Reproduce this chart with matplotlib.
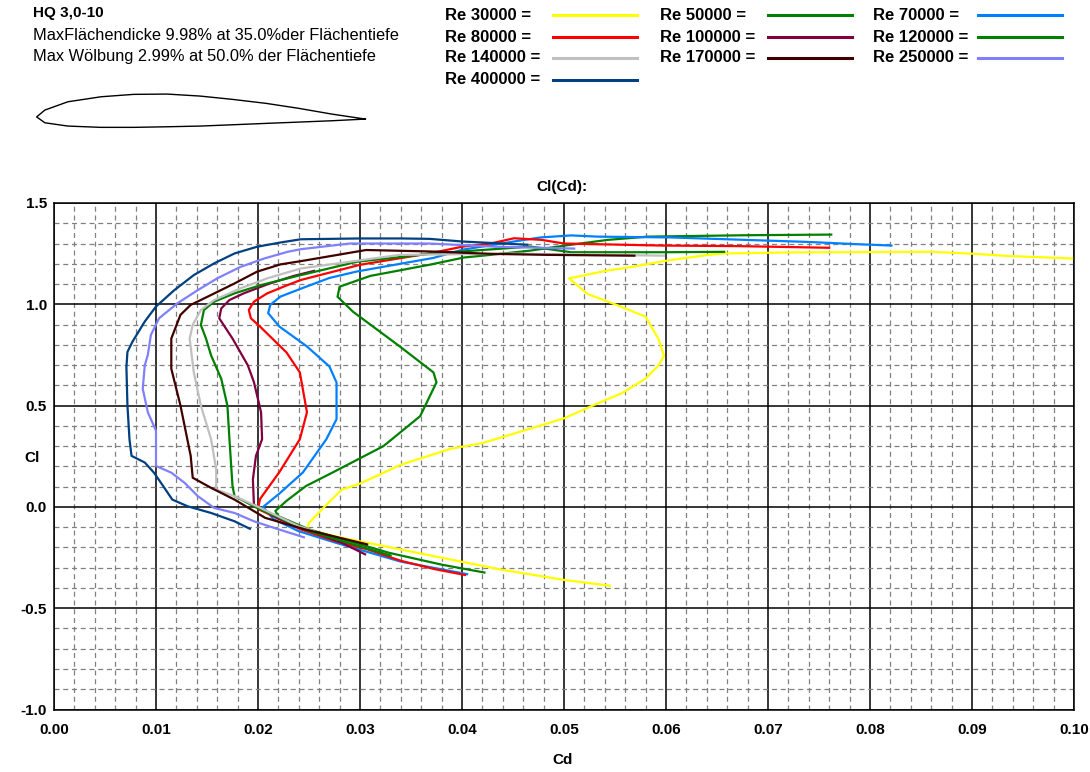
#!/usr/bin/env python3

import matplotlib
matplotlib.use("Agg")
import matplotlib.pyplot as plt
from matplotlib.lines import Line2D
from matplotlib.ticker import MultipleLocator, FormatStrFormatter


# polar data, each series ordered from lowest to highest Cl
re_labels = ["Re 30000 =", "Re 50000 =", "Re 70000 =",
             "Re 80000 =", "Re 100000 =", "Re 120000 =",
             "Re 140000 =", "Re 170000 =", "Re 250000 =",
             "Re 400000 ="]
re_colors = ["#ffff00", "#008000", "#0080ff",
             "#ff0000", "#800040", "#008000",
             "#c0c0c0", "#400000", "#8080ff",
             "#004080"]

cd_30k = [0.0545, 0.0501, 0.0440, 0.0379, 0.0320, 0.0280, 0.0248, 0.0250, 0.0265, 0.0282,
          0.0300, 0.0340, 0.0389, 0.0420, 0.0472, 0.0501, 0.0528, 0.0557, 0.0580, 0.0593,
          0.0598, 0.0593, 0.0580, 0.0550, 0.0523, 0.0505, 0.0542, 0.0567, 0.0600, 0.0640,
          0.0656, 0.0722, 0.0860, 0.0900, 0.0937, 0.1000, 0.1040]
cl_30k = [-0.389, -0.361, -0.311, -0.250, -0.190, -0.150, -0.111, -0.079, 0.000, 0.085,
          0.115, 0.208, 0.287, 0.315, 0.394, 0.439, 0.500, 0.562, 0.633, 0.700,
          0.746, 0.825, 0.939, 1.000, 1.051, 1.128, 1.166, 1.185, 1.215, 1.243,
          1.251, 1.256, 1.259, 1.250, 1.238, 1.226, 1.220]

cd_50k = [0.0422, 0.0380, 0.0328, 0.0250, 0.0220, 0.0217, 0.0228, 0.0247, 0.0274, 0.0323,
          0.0359, 0.0375, 0.0372, 0.0339, 0.0293, 0.0278, 0.0280, 0.0310, 0.0368, 0.0402,
          0.0428, 0.0467, 0.0501, 0.0543, 0.0582, 0.0680, 0.0762]
cl_50k = [-0.324, -0.285, -0.226, -0.111, -0.046, -0.020, 0.030, 0.103, 0.172, 0.300,
          0.448, 0.615, 0.664, 0.792, 0.964, 1.037, 1.087, 1.140, 1.195, 1.231,
          1.244, 1.265, 1.290, 1.318, 1.334, 1.341, 1.344]

cd_70k = [0.0405, 0.0340, 0.0275, 0.0240, 0.0215, 0.0205, 0.0221, 0.0244, 0.0267, 0.0277,
          0.0277, 0.0270, 0.0248, 0.0221, 0.0210, 0.0212, 0.0222, 0.0241, 0.0270, 0.0297,
          0.0372, 0.0401, 0.0451, 0.0477, 0.0507, 0.0533, 0.0605, 0.0738, 0.0786, 0.0821]
cl_70k = [-0.332, -0.270, -0.175, -0.120, -0.060, 0.000, 0.066, 0.170, 0.334, 0.433,
          0.614, 0.693, 0.792, 0.890, 0.956, 0.997, 1.038, 1.075, 1.130, 1.162,
          1.229, 1.270, 1.310, 1.330, 1.340, 1.334, 1.330, 1.308, 1.297, 1.290]

cd_80k = [0.0403, 0.0373, 0.0340, 0.0307, 0.0275, 0.0242, 0.0200, 0.0202, 0.0221, 0.0241,
          0.0248, 0.0241, 0.0228, 0.0202, 0.0193, 0.0191, 0.0196, 0.0209, 0.0229, 0.0242,
          0.0300, 0.0369, 0.0401, 0.0428, 0.0451, 0.0478, 0.0500, 0.0596, 0.0673, 0.0760]
cl_80k = [-0.336, -0.307, -0.266, -0.209, -0.168, -0.111, -0.010, 0.039, 0.172, 0.334,
          0.467, 0.664, 0.762, 0.890, 0.931, 0.972, 1.013, 1.054, 1.095, 1.120,
          1.195, 1.252, 1.285, 1.300, 1.326, 1.318, 1.300, 1.290, 1.287, 1.279]

cd_100k = [0.0305, 0.0282, 0.0243, 0.0219, 0.0196, 0.0195, 0.0198, 0.0204, 0.0203, 0.0196,
           0.0190, 0.0175, 0.0162, 0.0164, 0.0172, 0.0186, 0.0210, 0.0235, 0.0255]
cl_100k = [-0.234, -0.177, -0.103, -0.055, 0.011, 0.136, 0.252, 0.334, 0.467, 0.616,
           0.699, 0.831, 0.931, 0.980, 1.021, 1.054, 1.100, 1.140, 1.165]

cd_120k = [0.0330, 0.0290, 0.0250, 0.0199, 0.0177, 0.0175, 0.0172, 0.0170, 0.0164, 0.0154,
           0.0149, 0.0144, 0.0147, 0.0157, 0.0177, 0.0203, 0.0229, 0.0242, 0.0297, 0.0370,
           0.0467, 0.0507, 0.0599, 0.0657]
cl_120k = [-0.240, -0.180, -0.120, -0.005, 0.053, 0.103, 0.334, 0.500, 0.632, 0.748,
           0.831, 0.898, 0.972, 1.013, 1.054, 1.095, 1.128, 1.144, 1.210, 1.250,
           1.285, 1.257, 1.257, 1.259]

cd_140k = [0.0255, 0.0240, 0.0199, 0.0177, 0.0159, 0.0159, 0.0154, 0.0144, 0.0137, 0.0133,
           0.0136, 0.0144, 0.0157, 0.0183, 0.0209, 0.0242, 0.0339, 0.0450, 0.0598]
cl_140k = [-0.120, -0.095, 0.003, 0.053, 0.086, 0.185, 0.334, 0.500, 0.666, 0.831,
           0.898, 0.972, 1.021, 1.079, 1.128, 1.177, 1.244, 1.250, 1.240]

cd_170k = [0.0307, 0.0246, 0.0207, 0.0177, 0.0154, 0.0136, 0.0134, 0.0124, 0.0115, 0.0115,
           0.0124, 0.0134, 0.0154, 0.0177, 0.0199, 0.0222, 0.0242, 0.0306, 0.0375, 0.0428,
           0.0484, 0.0569]
cl_170k = [-0.185, -0.111, -0.054, 0.036, 0.094, 0.144, 0.252, 0.500, 0.682, 0.831,
           0.948, 0.997, 1.046, 1.103, 1.161, 1.197, 1.213, 1.268, 1.260, 1.249,
           1.244, 1.240]

cd_250k = [0.0245, 0.0216, 0.0196, 0.0177, 0.0157, 0.0141, 0.0128, 0.0115, 0.0100, 0.0100,
           0.0092, 0.0087, 0.0089, 0.0092, 0.0095, 0.0103, 0.0121, 0.0141, 0.0160, 0.0183,
           0.0206, 0.0229, 0.0242, 0.0290, 0.0368, 0.0434, 0.0510]
cl_250k = [-0.150, -0.104, -0.071, -0.030, -0.005, 0.053, 0.119, 0.169, 0.202, 0.376,
           0.467, 0.583, 0.699, 0.751, 0.849, 0.931, 1.005, 1.070, 1.128, 1.185,
           1.226, 1.259, 1.272, 1.300, 1.300, 1.284, 1.275]

cd_400k = [0.0192, 0.0177, 0.0154, 0.0131, 0.0116, 0.0107, 0.0098, 0.0089, 0.0076, 0.0074,
           0.0072, 0.0071, 0.0072, 0.0077, 0.0089, 0.0100, 0.0118, 0.0137, 0.0157, 0.0177,
           0.0199, 0.0222, 0.0242, 0.0300, 0.0340, 0.0368, 0.0400, 0.0464]
cl_400k = [-0.108, -0.071, -0.030, 0.003, 0.036, 0.103, 0.169, 0.219, 0.252, 0.334,
           0.500, 0.690, 0.765, 0.816, 0.915, 0.989, 1.070, 1.144, 1.202, 1.251,
           1.284, 1.305, 1.321, 1.325, 1.325, 1.323, 1.310, 1.294]

cd_series = [cd_30k, cd_50k, cd_70k, cd_80k, cd_100k, cd_120k, cd_140k, cd_170k, cd_250k, cd_400k]
cl_series = [cl_30k, cl_50k, cl_70k, cl_80k, cl_100k, cl_120k, cl_140k, cl_170k, cl_250k, cl_400k]

# airfoil contour (x/c, y/c), TE -> upper -> LE -> lower -> TE
foil_x = [1.000, 0.898, 0.798, 0.698, 0.596, 0.497, 0.397, 0.295, 0.196, 0.095, 0.025, 0.000,
          0.025, 0.095, 0.196, 0.295, 0.397, 0.497, 0.596, 0.698, 0.798, 0.898, 1.000]
foil_y = [-0.0045, 0.0105, 0.0277, 0.0428, 0.0548, 0.0648, 0.0708, 0.0699, 0.0627, 0.0476, 0.0226, 0.0020,
          -0.0157, -0.0256, -0.0295, -0.0295, -0.0277, -0.0256, -0.0217, -0.0175, -0.0136, -0.0096, -0.0045]

header_lines = ["HQ 3,0-10",
                "MaxFlächendicke 9.98% at 35.0%der Flächentiefe",
                "Max Wölbung 2.99% at 50.0% der Flächentiefe"]

W, H = 1090, 772


def fx(px):
    return px / W


def fy(py):
    return 1 - py / H


def main() -> None:
    plt.rcParams["font.family"] = ["Liberation Sans", "DejaVu Sans"]

    fig = plt.figure(figsize=(W / 100, H / 100), dpi=100)

    # header
    fig.text(fx(33), fy(13), header_lines[0], fontsize=11, fontweight="bold", va="center")
    fig.text(fx(33), fy(36), header_lines[1], fontsize=11.8, va="center")
    fig.text(fx(33), fy(57), header_lines[2], fontsize=11.8, va="center")

    # airfoil sketch
    ax_foil = fig.add_axes([fx(35), fy(134), fx(367) - fx(35), fy(88) - fy(134)])
    ax_foil.plot(foil_x, foil_y, color="black", lw=1.0)
    ax_foil.set_xlim(-0.005, 1.005)
    ax_foil.set_ylim(-0.0495, 0.0891)
    ax_foil.axis("off")

    # legend, 3 columns
    col_text = [445, 660, 873]
    col_line = [553, 768, 978]
    rows = [15, 37, 58, 80]
    for i, (label, color) in enumerate(zip(re_labels, re_colors)):
        r, c = divmod(i, 3)
        y = fy(rows[r])
        fig.text(fx(col_text[c]), y, label, fontsize=12, fontweight="bold", va="center")
        fig.add_artist(Line2D([fx(col_line[c]), fx(col_line[c] + 84)], [y, y],
                              color=color, lw=2.2, transform=fig.transFigure))

    # main plot
    ax = fig.add_axes([fx(54), fy(709.5), fx(1074) - fx(54), fy(203) - fy(709.5)])
    ax.set_xlim(0, 0.10)
    ax.set_ylim(-1.0, 1.5)
    ax.xaxis.set_major_locator(MultipleLocator(0.01))
    ax.xaxis.set_minor_locator(MultipleLocator(0.002))
    ax.yaxis.set_major_locator(MultipleLocator(0.5))
    ax.yaxis.set_minor_locator(MultipleLocator(0.1))
    ax.xaxis.set_major_formatter(FormatStrFormatter("%.2f"))
    ax.yaxis.set_major_formatter(FormatStrFormatter("%.1f"))
    ax.grid(which="minor", color="#808080", lw=0.9, linestyle=(0, (4, 3)))
    ax.grid(which="major", color="black", lw=1.1)
    ax.set_axisbelow(True)
    ax.tick_params(which="both", length=0)
    ax.tick_params(axis="x", pad=10)
    ax.tick_params(axis="y", pad=5)
    for lbl in ax.get_xticklabels() + ax.get_yticklabels():
        lbl.set_fontweight("bold")
        lbl.set_fontsize(11)
    for spine in ax.spines.values():
        spine.set_color("black")
        spine.set_linewidth(1.1)

    for cd, cl, color in zip(cd_series, cl_series, re_colors):
        ax.plot(cd, cl, color=color, lw=1.6)

    fig.text(fx(562), fy(187), "Cl(Cd):", fontsize=11, fontweight="bold", ha="center", va="center")
    fig.text(fx(563), fy(760), "Cd", fontsize=11, fontweight="bold", ha="center", va="center")
    fig.text(fx(32), fy(458), "Cl", fontsize=11, fontweight="bold", ha="center", va="center")

    fig.savefig("out.png", dpi=100)


if __name__ == "__main__":
    main()
